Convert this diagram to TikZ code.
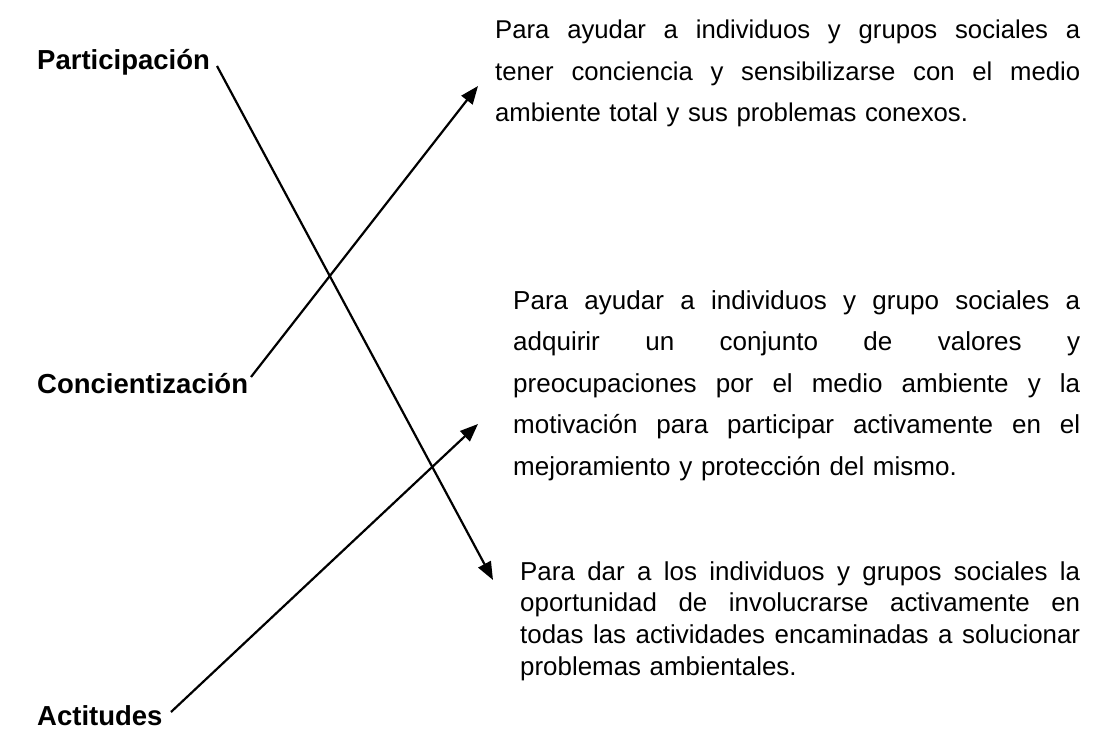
\documentclass[tikz,border=0pt]{standalone}
\usepackage{fontspec}
\setmainfont{Liberation Sans}
\usetikzlibrary{arrows.meta}
\tikzset{
  lbl/.style={anchor=base west, inner sep=0pt, font=\fontsize{27.5}{33}\selectfont\bfseries},
  txtblock/.style={anchor=base west, inner sep=0pt, align=left},
  conn/.style={line width=2.2pt, -{Triangle[length=18pt,width=14pt]}}
}
\newcommand{\jl}[2]{\leavevmode\hbox to #1{\spaceskip=0.278em plus 1fil\relax #2}}
\begin{document}
\begin{tikzpicture}[x=1pt,y=-1pt]
\useasboundingbox (0,0) rectangle (1101,738);
% labels
\node[lbl] (part) at (37,70) {Participación};
\node[lbl] (conc) at (37,393) {Concientización};
\node[lbl] (acti) at (37,725) {Actitudes};
% text blocks
\node[txtblock, text width=585pt, font=\fontsize{25.7}{41.5}\selectfont] (b1) at (495,39)
 {\jl{585pt}{Para ayudar a individuos y grupos sociales a}\\
  \jl{585pt}{tener conciencia y sensibilizarse con el medio}\\
  ambiente total y sus problemas conexos.};
\node[txtblock, text width=567pt, font=\fontsize{26}{41.5}\selectfont] (b2) at (513,309)
 {\jl{567pt}{Para ayudar a individuos y grupo sociales a}\\
  \jl{567pt}{adquirir un conjunto de valores y}\\
  \jl{567pt}{preocupaciones por el medio ambiente y la}\\
  \jl{567pt}{motivación para participar activamente en el}\\
  mejoramiento y protección del mismo.};
\node[txtblock, text width=560pt, font=\fontsize{25.9}{31.7}\selectfont] (b3) at (520,580)
 {\jl{560pt}{Para dar a los individuos y grupos sociales la}\\
  \jl{560pt}{oportunidad de involucrarse activamente en}\\
  \jl{560pt}{todas las actividades encaminadas a solucionar}\\
  problemas ambientales.};
% connector ends
\coordinate (s1) at (217,66);
\coordinate (t1) at (493,580);
\coordinate (s2) at (251,377);
\coordinate (t2) at (478,86);
\coordinate (s3) at (171,712);
\coordinate (t3) at (478,424);
\draw[conn] (s1) -- (t1);
\draw[conn] (s2) -- (t2);
\draw[conn] (s3) -- (t3);
\end{tikzpicture}
\end{document}
